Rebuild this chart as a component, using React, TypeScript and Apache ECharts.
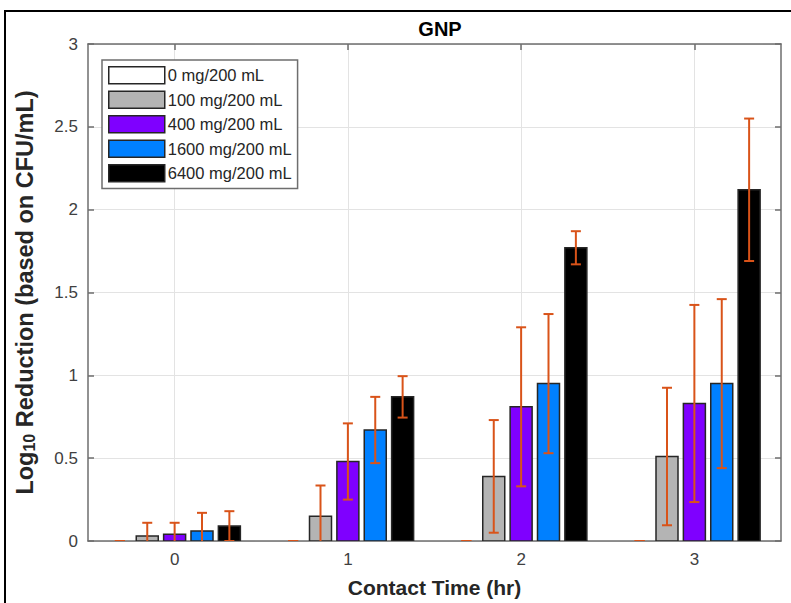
import React, { useEffect, useRef } from "react";
import * as echarts from "echarts";

const TIMES = [0, 1, 2, 3];
const X_TICKS = [0, 1, 2, 3];
const SERIES_NAMES = ["0 mg/200 mL", "100 mg/200 mL", "400 mg/200 mL", "1600 mg/200 mL", "6400 mg/200 mL"];
const V_0 = [0, 0, 0, 0];
const E_0 = [0, 0, 0, 0];
const V_100 = [0.03, 0.15, 0.39, 0.51];
const E_100 = [0.08, 0.185, 0.34, 0.415];
const V_400 = [0.04, 0.48, 0.81, 0.83];
const E_400 = [0.07, 0.23, 0.48, 0.595];
const V_1600 = [0.06, 0.67, 0.95, 0.95];
const E_1600 = [0.11, 0.2, 0.42, 0.51];
const V_6400 = [0.09, 0.87, 1.77, 2.12];
const E_6400 = [0.09, 0.125, 0.1, 0.43];

const VALUES = [V_0, V_100, V_400, V_1600, V_6400];
const ERRORS = [E_0, E_100, E_400, E_1600, E_6400];
const COLORS = ["#ffffff", "#b4b4b4", "#7f00ff", "#0080ff", "#000000"];
const OFFSETS = [-0.316, -0.158, 0, 0.158, 0.316];
const BAR_W = 0.127;
const ERR_COLOR = "#d95319";
const FONT = "Liberation Sans, Arial, Helvetica, sans-serif";

export default function App() {
  const ref = useRef<HTMLDivElement>(null);
  useEffect(() => {
    if (!ref.current) return;
    const chart = echarts.init(ref.current, undefined, { renderer: "svg" });

    const makeRender = (idx: number) => (params: any, api: any) => {
      const x = api.value(0) + OFFSETS[idx];
      const v = api.value(1);
      const e = api.value(2);
      const tl = api.coord([x - BAR_W / 2, v]);
      const br = api.coord([x + BAR_W / 2, 0]);
      const top = api.coord([x, v + e]);
      const bot = api.coord([x, v - e]);
      const cap = 5;
      const children: any[] = [];
      if (br[1] - tl[1] > 0.5) {
        children.push({
          type: "rect",
          shape: { x: tl[0], y: tl[1], width: br[0] - tl[0], height: br[1] - tl[1] },
          style: { fill: COLORS[idx], stroke: "#262626", lineWidth: 1.5 },
        });
      }
      const ls = { stroke: ERR_COLOR, lineWidth: 2 };
      children.push({ type: "line", shape: { x1: top[0], y1: top[1], x2: bot[0], y2: bot[1] }, style: ls });
      children.push({ type: "line", shape: { x1: top[0] - cap, y1: top[1], x2: top[0] + cap, y2: top[1] }, style: ls });
      children.push({ type: "line", shape: { x1: bot[0] - cap, y1: bot[1], x2: bot[0] + cap, y2: bot[1] }, style: ls });
      return { type: "group", children };
    };

    const series = SERIES_NAMES.map((name, i) => ({
      name,
      type: "custom",
      clip: true,
      itemStyle: { color: COLORS[i] },
      renderItem: makeRender(i),
      encode: { x: 0, y: 1 },
      data: TIMES.map((t, k) => [t, VALUES[i][k], ERRORS[i][k]]),
    }));

    const axisLineStyle = { color: "#6e6e6e", width: 1.5 };

    chart.setOption({
      animation: false,
      backgroundColor: "#ffffff",
      textStyle: { fontFamily: FONT },
      title: {
        text: "GNP",
        left: 435,
        top: 14,
        textAlign: "center",
        textStyle: { fontSize: 20, fontWeight: "bold", color: "#000", fontFamily: FONT },
      },
      graphic: [
        {
          type: "rect",
          shape: { x: 5, y: 11, width: 820, height: 620 },
          style: { fill: "none", stroke: "#000", lineWidth: 2 },
          silent: true,
        },
      ],
      grid: { left: 88, right: 10, top: 44, bottom: 62 },
      legend: {
        orient: "vertical",
        left: 102,
        top: 60,
        padding: [6, 6, 6, 6],
        itemWidth: 56,
        itemHeight: 17,
        itemGap: 6,
        icon: "rect",
        backgroundColor: "#fff",
        borderColor: "#6e6e6e",
        borderWidth: 1.5,
        itemStyle: { borderColor: "#262626", borderWidth: 1.5 },
        textStyle: { fontSize: 16.5, color: "#262626", fontFamily: FONT, padding: [0, 0, 0, -2], width: 126 },
        data: SERIES_NAMES,
      },
      xAxis: [
        {
          type: "value",
          min: -0.5,
          max: 3.5,
          position: "bottom",
          name: "Contact Time (hr)",
          nameLocation: "middle",
          nameGap: 36,
          nameTextStyle: { fontSize: 21, fontWeight: "bold", color: "#262626", fontFamily: FONT },
          axisLine: { show: true, onZero: false, lineStyle: axisLineStyle },
          axisTick: { show: true, inside: true, length: 6, customValues: X_TICKS, lineStyle: axisLineStyle },
          axisLabel: { customValues: X_TICKS, fontSize: 17, color: "#404040", margin: 10, fontFamily: FONT },
          splitLine: { show: true, lineStyle: { color: "#e3e3e3", width: 1 } },
        },
        {
          type: "value",
          min: -0.5,
          max: 3.5,
          position: "top",
          axisLine: { show: true, onZero: false, lineStyle: axisLineStyle },
          axisTick: { show: true, inside: true, length: 6, customValues: X_TICKS, lineStyle: axisLineStyle },
          axisLabel: { show: false, customValues: X_TICKS },
          splitLine: { show: false },
        },
      ],
      yAxis: [
        {
          type: "value",
          min: 0,
          max: 3,
          interval: 0.5,
          position: "left",
          name: "{a|Log}{b|10}{a| Reduction (based on CFU/mL)}",
          nameLocation: "middle",
          nameGap: 51,
          nameRotate: 90,
          nameTextStyle: {
            color: "#262626",
            fontFamily: FONT,
            rich: {
              a: { fontSize: 23.5, fontWeight: "bold", color: "#262626", fontFamily: FONT, verticalAlign: "bottom", lineHeight: 26 },
              b: { fontSize: 16, fontWeight: "bold", color: "#262626", fontFamily: FONT, verticalAlign: "bottom", lineHeight: 18, padding: [8, 0, 0, 0] },
            },
          },
          axisLine: { show: true, onZero: false, lineStyle: axisLineStyle },
          axisTick: { show: true, inside: true, length: 6, lineStyle: axisLineStyle },
          axisLabel: { fontSize: 17, color: "#404040", margin: 10, fontFamily: FONT },
          splitLine: { show: true, lineStyle: { color: "#e3e3e3", width: 1 } },
        },
        {
          type: "value",
          min: 0,
          max: 3,
          interval: 0.5,
          position: "right",
          axisLine: { show: true, onZero: false, lineStyle: axisLineStyle },
          axisTick: { show: true, inside: true, length: 6, lineStyle: axisLineStyle },
          axisLabel: { show: false },
          splitLine: { show: false },
        },
      ],
      series,
    });
    return () => chart.dispose();
  }, []);
  return <div ref={ref} style={{ position: "fixed", left: 0, top: 0, width: 791, height: 603 }} />;
}
